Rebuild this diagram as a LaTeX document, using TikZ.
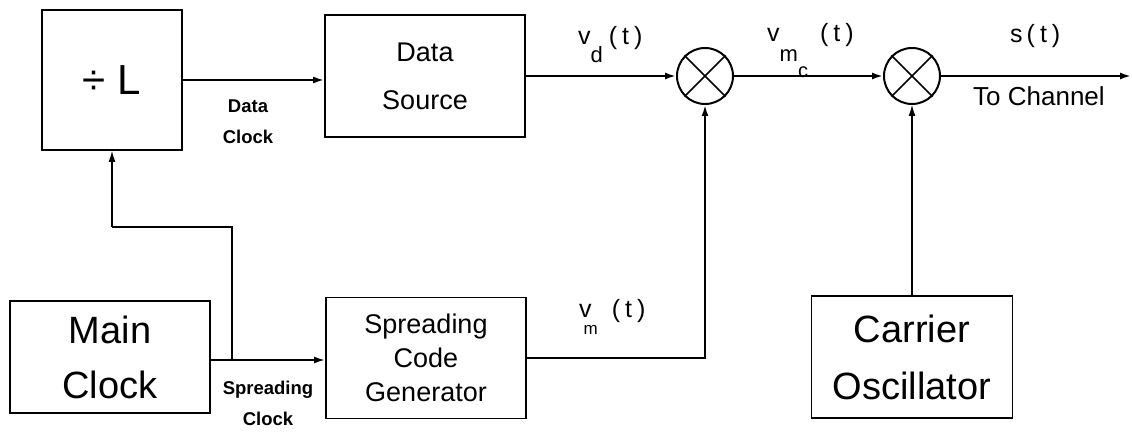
\documentclass[tikz,border=0pt]{standalone}
\usepackage{fontspec}
\setmainfont{Liberation Sans}
\usetikzlibrary{arrows.meta}
\newcommand{\lowsub}[2]{\raisebox{-#1}{#2}}
\newcommand{\tparen}{(\hspace{5pt}t\hspace{5pt})}
\begin{document}
\begin{tikzpicture}[x=1pt,y=-1pt,
  blk/.style={draw,line width=1.8pt,inner sep=0pt,align=center},
  mult/.style={draw,circle,line width=2pt,minimum size=56pt,inner sep=0pt},
  wire/.style={line width=2pt,-{Latex[length=11pt,width=7pt]}},
  thinwire/.style={line width=1.2pt,-{Latex[length=11pt,width=7pt]}},
  plainwire/.style={line width=1.2pt},
  lbl/.style={font=\fontsize{25}{28}\selectfont,inner sep=0pt,anchor=base west},
  small/.style={font=\bfseries\fontsize{18.5}{31}\selectfont,align=center,inner sep=0pt}]
\useasboundingbox (0,0) rectangle (1132,435);
% blocks
\node[blk,minimum width=140pt,minimum height=140pt,font=\fontsize{42}{46}\selectfont] (div) at (112,80) {÷ L};
\node[blk,minimum width=200pt,minimum height=122pt,font=\fontsize{27}{48}\selectfont] (ds) at (425,76) {Data\\Source};
\node[blk,minimum width=200pt,minimum height=112pt,font=\fontsize{38}{55}\selectfont] (mc) at (110,357) {Main\\Clock};
\node[blk,minimum width=200pt,minimum height=121pt,font=\fontsize{27}{34}\selectfont] (scg) at (426,358) {Spreading\\Code\\Generator};
\node[blk,minimum width=201pt,minimum height=122pt,font=\fontsize{38}{57}\selectfont] (co) at (912,357) {Carrier\\Oscillator};
% multipliers
\node[mult] (m1) at (705,76) {};
\node[mult] (m2) at (912,76) {};
\foreach \m in {m1,m2}{
  \draw[line width=1.6pt] (\m.45) -- (\m.225) (\m.135) -- (\m.315);
}
% coordinates
\coordinate (out) at (1131,76);
\coordinate (sc) at (mc.east |- 0,360);
\coordinate (j) at (232,360);
\coordinate (bend) at (112,227);
% connectors
\draw[wire] (div.east) -- (ds.west |- div.east);
\draw[wire] (ds.east) -- (m1.west);
\draw[wire] (m1.east) -- (m2.west);
\draw[wire] (m2.east) -- (out);
\draw[wire] (sc) -- (scg.west |- sc);
\draw[plainwire] (j) |- (bend);
\draw[thinwire] (bend) -- (div.south);
\draw[wire] (scg.east) -| (m1.south);
\draw[thinwire] (co.north) -- (m2.south);
% labels
\node[small] (dclk) at (248,122) {Data\\Clock};
\node[small] (sclk) at (268,403) {Spreading\\Clock};
\node[lbl] (vd) at (578,45) {v\lowsub{18pt}{\fontsize{22}{24}\selectfont d}\hspace{6pt}\tparen};
\node[lbl] (vmc) at (767,42) {v\lowsub{20pt}{\fontsize{22}{24}\selectfont m\lowsub{16pt}{\fontsize{20}{22}\selectfont c}}\hspace{12pt}\tparen};
\node[lbl] (st) at (1010,43) {s\hspace{4pt}\tparen};
\node[lbl,font=\fontsize{26}{28}\selectfont] (tc) at (973,106) {To Channel};
\node[lbl] (vm) at (579,318) {v\hspace{-8pt}\lowsub{17pt}{\fontsize{17}{20}\selectfont m}\hspace{14pt}\tparen};
\end{tikzpicture}
\end{document}
